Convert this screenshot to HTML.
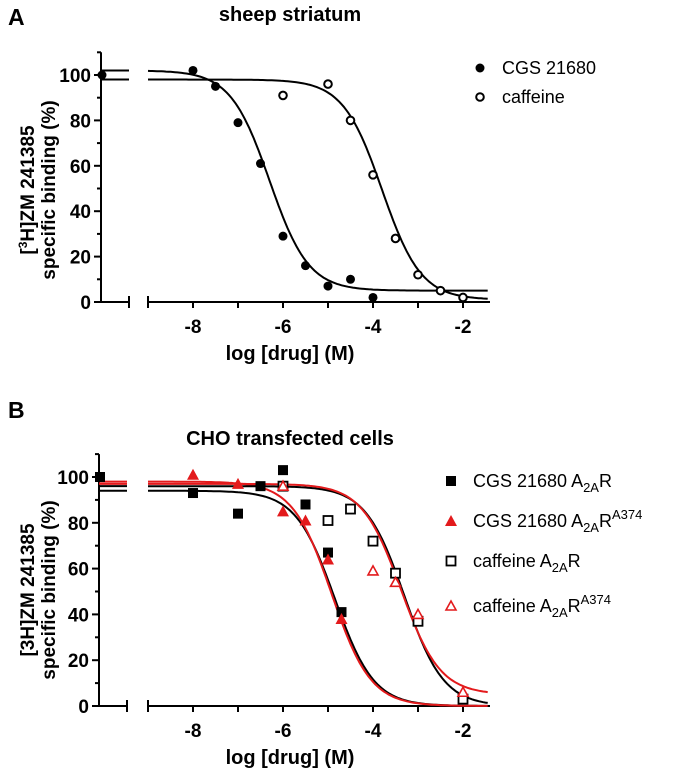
<!DOCTYPE html>
<html><head><meta charset="utf-8"><style>
html,body{margin:0;padding:0;background:#fff;}
svg{display:block;font-family:"Liberation Sans",Arial,sans-serif;}
</style></head><body>
<svg id="fig" width="675" height="768" viewBox="0 0 675 768"></svg>
<script>
// ===== Panel A data =====
const aCgsX = [-8, -7.5, -7, -6.5, -6, -5.5, -5, -4.5, -4];
const aCgsY = [102, 95, 79, 61, 29, 16, 7, 10, 2];
const aCafX = [-6, -5, -4.5, -4, -3.5, -3, -2.5, -2];
const aCafY = [91, 96, 80, 56, 28, 12, 5, 2];
const aCtrlCgs = 100, aCtrlCaf = 100;
const aFitCgs = [102, 5, -6.3, 1.0];   // top, bottom, logIC50, hill
const aFitCaf = [98, 1, -3.8, 1.0];
// ===== Panel B data =====
const bCgsX = [-8, -7, -6.5, -6, -5.5, -5, -4.7];
const bCgsY = [93, 84, 96, 103, 88, 67, 41];
const bCgsRX = [-8, -7, -6, -5.5, -5, -4.7];
const bCgsRY = [101, 97, 85, 81, 64, 38];
const bCafX = [-6, -5, -4.5, -4, -3.5, -3, -2];
const bCafY = [96, 81, 86, 72, 58, 37, 3];
const bCafRX = [-6, -4, -3.5, -3, -2];
const bCafRY = [96, 59, 54, 40, 6];
const bFitCgs = [94, 0, -4.85, 1.0];
const bFitCgsR = [98, 0, -4.92, 1.0];
const bFitCaf = [96, 0, -3.3, 1.0];
const bFitCafR = [97, 5, -3.38, 1.0];
const xTicks = [-8, -6, -4, -2];
const yTicks = [0, 20, 40, 60, 80, 100];

const NS = "http://www.w3.org/2000/svg";
const svg = document.getElementById('fig');
function mk(tag, attrs, parent) {
  const e = document.createElementNS(NS, tag);
  for (const k in attrs) e.setAttribute(k, attrs[k]);
  (parent || svg).appendChild(e);
  return e;
}
function txt(s, x, y, size, bold, anchor, parent) {
  const t = mk('text', {x: x, y: y, 'font-size': size, 'font-weight': bold ? 'bold' : 'normal', 'text-anchor': anchor || 'start', fill: '#000'}, parent);
  t.textContent = s;
  return t;
}
function sig(p, x) { return p[1] + (p[0] - p[1]) / (1 + Math.pow(10, (x - p[2]) * p[3])); }

function panel(cfg) {
  const g = mk('g', {});
  
  
  const xs = v => 193 + (v + 8) * 45;
  const ys = v => cfg.y0 - v * cfg.k;
  const ax = cfg.ax;
  const yax = mk('g', {stroke: '#000', 'stroke-width': 2}, g);
  
  
  mk('line', {x1: ax, y1: ys(0), x2: ax, y2: ys(110)}, yax);
  for (let v = 0; v <= 110; v += 10) {
    const major = v % 20 === 0 && v <= 100;
    mk('line', {x1: ax - (major ? 7 : 4), y1: ys(v), x2: ax, y2: ys(v)}, yax);
  }
  yTicks.forEach(v => {
    const t = txt(String(v), ax - 10, ys(v) + 7, 19, true, 'end', g);
    
    
  });
  const xax = mk('g', {stroke: '#000', 'stroke-width': 2}, g);
  
  
  mk('line', {x1: ax, y1: ys(0), x2: ax + 28, y2: ys(0)}, xax);
  mk('line', {x1: ax + 28, y1: ys(0) - 6, x2: ax + 28, y2: ys(0) + 6}, xax);
  mk('line', {x1: xs(-9), y1: ys(0), x2: xs(-1.4), y2: ys(0)}, xax);
  for (let v = -9; v <= -2; v++) mk('line', {x1: xs(v), y1: ys(0), x2: xs(v), y2: ys(0) + 6}, xax);
  mk('line', {x1: xs(-9), y1: ys(0) - 6, x2: xs(-9), y2: ys(0)}, xax);
  xTicks.forEach(v => {
    const t = txt(String(v), xs(v), ys(0) + 31, 19, true, 'middle', g);
    
    
  });
  cfg.fits.forEach(f => {
    let d = '';
    for (let v = -9; v <= -1.4001; v += 0.05) d += (d ? 'L' : 'M') + xs(v).toFixed(1) + ',' + ys(sig(f.p, v)).toFixed(1);
    const pth = mk('path', {d: d, fill: 'none', stroke: f.c, 'stroke-width': 2}, g);
    
    
    const ln = mk('line', {x1: ax, y1: ys(f.p[0]), x2: ax + 28, y2: ys(f.p[0]), stroke: f.c, 'stroke-width': 2}, g);
    
    
  });
  cfg.series.forEach(s => {
    const sg = mk('g', {}, g);
    
    
    const pts = s.X.map((x, i) => [xs(x), ys(s.Y[i])]);
    if (s.ctrl !== undefined) pts.push([ax + 1, ys(s.ctrl)]);
    pts.forEach(p => marker(s.m, s.c, p[0], p[1], sg));
  });
  const tt = txt(cfg.title, 290, cfg.titleY, 20, true, 'middle', g);
  
  
  const lt = txt(cfg.letter, 8, cfg.letterY, 23, true, 'start', g);
  
  
  const xl = txt('log [drug] (M)', 290, ys(0) + 58, 20, true, 'middle', g);
  
  
  const yl = mk('text', {transform: 'translate(' + cfg.ylx + ',' + cfg.yly + ') rotate(-90)', 'font-size': 19, 'font-weight': 'bold', 'text-anchor': 'middle'}, g);
  
  
  yl.innerHTML = cfg.ylab1;
  const yl2 = mk('text', {transform: 'translate(' + (cfg.ylx + 21) + ',' + cfg.yly + ') rotate(-90)', 'font-size': 19, 'font-weight': 'bold', 'text-anchor': 'middle'}, g);
  yl2.textContent = 'specific binding (%)';
  
  
  cfg.legend.forEach(l => {
    const lg = mk('g', {}, g);
    
    
    marker(l.m, l.c, l.mx, l.y - 6, lg);
    const t = mk('text', {x: l.tx, y: l.y, 'font-size': 18}, lg);
    t.innerHTML = l.t;
  });
}
function marker(m, c, x, y, parent) {
  if (m === 'dot') mk('circle', {cx: x, cy: y, r: 4.5, fill: c}, parent);
  else if (m === 'ring') mk('circle', {cx: x, cy: y, r: 3.8, fill: '#fff', stroke: c, 'stroke-width': 2}, parent);
  else if (m === 'sq') mk('rect', {x: x - 5, y: y - 5, width: 10, height: 10, fill: c}, parent);
  else if (m === 'osq') mk('rect', {x: x - 4.5, y: y - 4.5, width: 9, height: 9, fill: '#fff', stroke: c, 'stroke-width': 1.8}, parent);
  else if (m === 'tri') mk('polygon', {points: (x) + ',' + (y - 6) + ' ' + (x - 6) + ',' + (y + 5) + ' ' + (x + 6) + ',' + (y + 5), fill: c}, parent);
  else if (m === 'otri') mk('polygon', {points: (x) + ',' + (y - 5) + ' ' + (x - 5) + ',' + (y + 4) + ' ' + (x + 5) + ',' + (y + 4), fill: '#fff', stroke: c, 'stroke-width': 1.6}, parent);
}
const RED = '#e31a1c';
panel({
  name: 'panel-a', y0: 302, k: 2.27, ax: 101, title: 'sheep striatum', titleY: 21, letter: 'A', letterY: 25,
  ylx: 34, yly: 190, ylab1: '[<tspan font-size="12" dy="-7">3</tspan><tspan dy="7">H]ZM 241385</tspan>',
  fits: [{p: aFitCgs, c: '#000', name: 'cgs-fit-curve'}, {p: aFitCaf, c: '#000', name: 'caffeine-fit-curve'}],
  series: [{X: aCgsX, Y: aCgsY, m: 'dot', c: '#000', ctrl: aCtrlCgs, name: 'cgs-points'},
           {X: aCafX, Y: aCafY, m: 'ring', c: '#000', name: 'caffeine-points'}],
  legend: [{m: 'dot', c: '#000', mx: 480, tx: 502, y: 74, t: 'CGS 21680'},
           {m: 'ring', c: '#000', mx: 480, tx: 502, y: 103, t: 'caffeine'}]
});
const A2A = 'A<tspan font-size="13" dy="5">2A</tspan><tspan dy="-5">R</tspan>';
const A2AS = A2A + '<tspan font-size="13" dy="-8">A374</tspan>';
panel({
  name: 'panel-b', y0: 706, k: 2.29, ax: 99, title: 'CHO transfected cells', titleY: 445, letter: 'B', letterY: 418,
  ylx: 34, yly: 590, ylab1: '[3H]ZM 241385',
  fits: [{p: bFitCgs, c: '#000', name: 'cgs-a2ar-fit'}, {p: bFitCgsR, c: RED, name: 'cgs-a374-fit'},
         {p: bFitCaf, c: '#000', name: 'caffeine-a2ar-fit'}, {p: bFitCafR, c: RED, name: 'caffeine-a374-fit'}],
  series: [{X: bCgsX, Y: bCgsY, m: 'sq', c: '#000', ctrl: 100, name: 'cgs-a2ar-points'},
           {X: bCgsRX, Y: bCgsRY, m: 'tri', c: RED, name: 'cgs-a374-points'},
           {X: bCafX, Y: bCafY, m: 'osq', c: '#000', name: 'caffeine-a2ar-points'},
           {X: bCafRX, Y: bCafRY, m: 'otri', c: RED, name: 'caffeine-a374-points'}],
  legend: [{m: 'sq', c: '#000', mx: 451, tx: 473, y: 487, t: 'CGS 21680 ' + A2A},
           {m: 'tri', c: RED, mx: 451, tx: 473, y: 527, t: 'CGS 21680 ' + A2AS},
           {m: 'osq', c: '#000', mx: 451, tx: 473, y: 567, t: 'caffeine ' + A2A},
           {m: 'otri', c: RED, mx: 451, tx: 473, y: 612, t: 'caffeine ' + A2AS}]
});
</script>
</body></html>
